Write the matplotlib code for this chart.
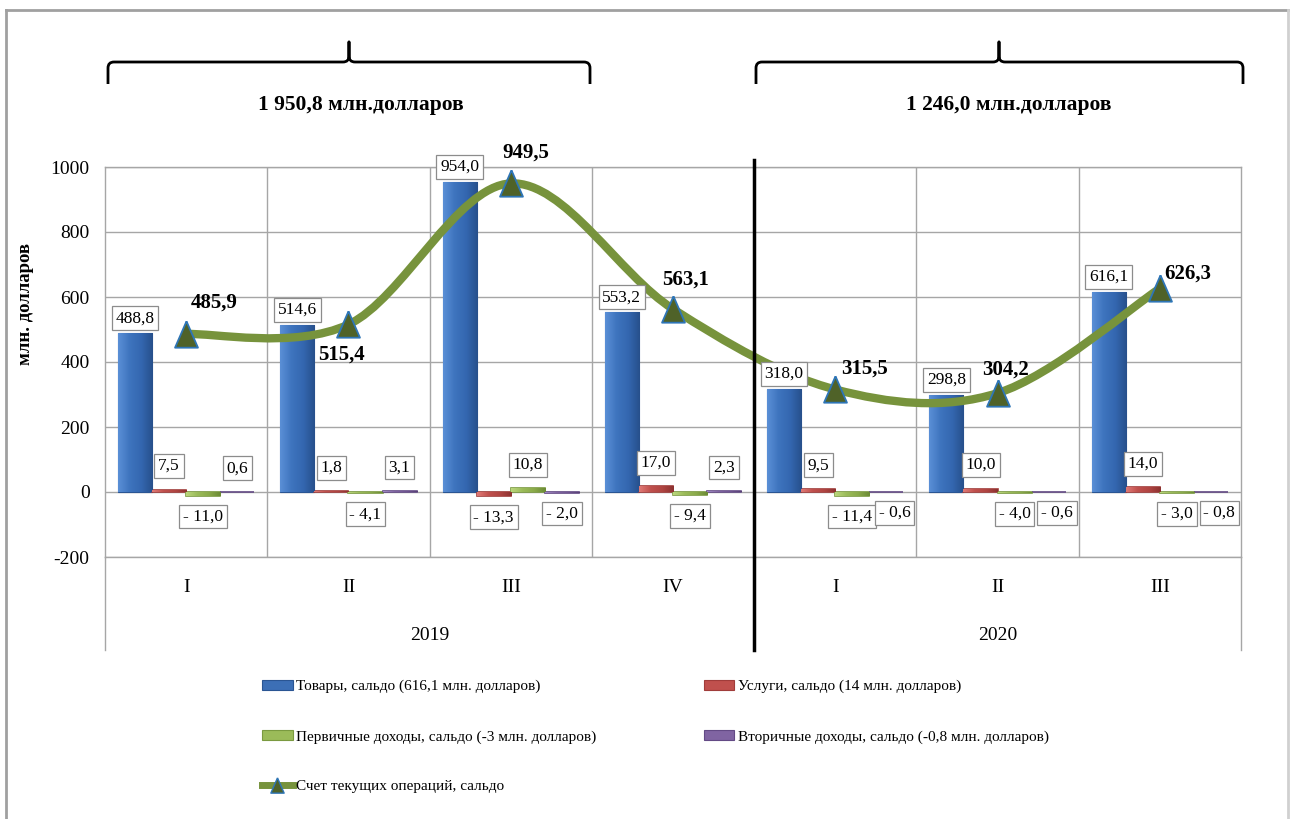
import numpy as np
import matplotlib
matplotlib.use('Agg')
import matplotlib.pyplot as plt
from matplotlib.path import Path
from matplotlib.patches import PathPatch, Rectangle
from matplotlib.lines import Line2D
from matplotlib.colors import LinearSegmentedColormap
import matplotlib.transforms as mtransforms

# ---------------- data ----------------
quarters = ['I', 'II', 'III', 'IV', 'I', 'II', 'III']
years = ['2019', '2020']
year_sizes = [4, 3]
goods = [488.8, 514.6, 954.0, 553.2, 318.0, 298.8, 616.1]
services = [7.5, 1.8, -13.3, 17.0, 9.5, 10.0, 14.0]
primary = [-11.0, -4.1, 10.8, -9.4, -11.4, -4.0, -3.0]
secondary = [0.6, 3.1, -2.0, 2.3, -0.6, -0.6, -0.8]
current = [485.9, 515.4, 949.5, 563.1, 315.5, 304.2, 626.3]
year_totals = ['1 950,8 млн.долларов', '1 246,0 млн.долларов']
series_names = ['Товары, сальдо (616,1 млн. долларов)',
                'Услуги, сальдо (14 млн. долларов)',
                'Первичные доходы, сальдо (-3 млн. долларов)',
                'Вторичные доходы, сальдо (-0,8 млн. долларов)']
line_name = 'Счет текущих операций, сальдо'
y_label = 'млн. долларов'
yticks = [-200, 0, 200, 400, 600, 800, 1000]

# ---------------- style ----------------
plt.rcParams['font.family'] = ['Liberation Serif', 'DejaVu Serif']
plt.rcParams['axes.unicode_minus'] = False
W, H = 1290, 819
fig = plt.figure(figsize=(W / 100, H / 100), dpi=100)
fig.patch.set_facecolor('white')

def fx(x):
    return x / W

def fy(y):
    return 1 - y / H

ax = fig.add_axes([fx(105), fy(557), fx(1241 - 105), (557 - 167) / H])

colors = [
    ['#5A8FD6', '#3E74BE', '#3467B0', '#27508C'],
    ['#E07A76', '#C0504D', '#B04542', '#8C3230'],
    ['#BAD67C', '#9BBB59', '#8AAA4A', '#6B8A35'],
    ['#A08AC4', '#8064A2', '#705592', '#574075'],
]
edge_cols = ['#2A5593', '#A03C3A', '#7A9A40', '#634A85']
base_cols = ['#3C6FB6', '#C0504D', '#9BBB59', '#8064A2']
line_col = '#77933C'

n = len(quarters)
x = np.arange(n)
bw = 0.21
all_series = [goods, services, primary, secondary]
offs = [-1.5, -0.5, 0.5, 1.5]

for k, (vals, off) in enumerate(zip(all_series, offs)):
    bars = ax.bar(x + off * bw, vals, width=bw, color=base_cols[k],
                  edgecolor=edge_cols[k], linewidth=1.2 if k else 0.8, zorder=3)
    cmap = LinearSegmentedColormap.from_list('g%d' % k, colors[k])
    grad = np.linspace(0, 1, 64).reshape(1, -1)
    for r in bars:
        x0, y0 = r.get_x(), r.get_y()
        w, h = r.get_width(), r.get_height()
        im = ax.imshow(grad, extent=(x0, x0 + w, min(y0, y0 + h), max(y0, y0 + h)),
                       cmap=cmap, aspect='auto', zorder=3.1, interpolation='bilinear')
        im.set_clip_path(r)

# smoothed line (Bezier through the data points)
P = np.column_stack([x, current]).astype(float)
verts = [P[0]]
codes = [Path.MOVETO]
for i in range(n - 1):
    p0 = P[i - 1] if i > 0 else P[i]
    p3 = P[i + 2] if i + 2 < n else P[i + 1]
    c1 = P[i] + (P[i + 1] - p0) / 6.0
    c2 = P[i + 1] - (p3 - P[i]) / 6.0
    verts += [c1, c2, P[i + 1]]
    codes += [Path.CURVE4] * 3
ax.add_patch(PathPatch(Path(verts, codes), fill=False, edgecolor=line_col,
                       lw=6, capstyle='round', zorder=5))
tri = [(0, 1.15), (-1, -1.15), (1, -1.15), (0, 1.15)]
ax.plot(x, current, ls='none', marker=tri, ms=19, mfc='#4F6228',
        mec='#2E75B6', mew=1.3, zorder=6)

ax.set_xlim(-0.5, n - 0.5)
ax.set_ylim(-200, 1000)
ax.set_yticks(yticks)
ax.set_xticks([])
ax.tick_params(axis='y', length=0, pad=11, labelsize=14)
ax.grid(axis='y', color='#A6A6A6', lw=1, zorder=0)
for b in np.arange(0.5, n - 0.5, 1):
    ax.axvline(b, color='#A6A6A6', lw=1, zorder=0)
for s in ax.spines.values():
    s.set_color('#A6A6A6')
    s.set_linewidth(1)

def fmt(v):
    s = ('%.1f' % abs(v)).replace('.', ',')
    return ('- ' + s) if v < 0 else s

box = dict(boxstyle='square,pad=0.22', fc='white', ec='#8C8C8C', lw=0.9)
for k, (vals, off) in enumerate(zip(all_series, offs)):
    for i, v in enumerate(vals):
        xc = i + off * bw
        if k == 0:
            ax.annotate(fmt(v), (xc, v), xytext=(0, 5), textcoords='offset points',
                        ha='center', va='bottom', fontsize=12.5, bbox=box, zorder=7)
        else:
            dx = 0
            if k == 3 and v < 0 and primary[i] < 0:
                dx = 6
            if v >= 0:
                ax.annotate(fmt(v), (xc, v), xytext=(dx, 17), textcoords='offset points',
                            ha='center', va='center', fontsize=12.5, bbox=box, zorder=7)
            else:
                ax.annotate(fmt(v), (xc, v), xytext=(dx, -15), textcoords='offset points',
                            ha='center', va='center', fontsize=12.5, bbox=box, zorder=7)

line_offsets = [(20, 23), (-5, -22), (11, 22), (9, 21), (21, 15), (6, 17), (20, 11)]
for i, v in enumerate(current):
    ax.annotate(fmt(v), (i, v), xytext=line_offsets[i], textcoords='offset points',
                ha='center', va='center', fontsize=15, fontweight='bold', zorder=8)

# category axis (two levels)
bt = mtransforms.blended_transform_factory(ax.transData, fig.transFigure)
for i, q in enumerate(quarters):
    ax.text(i, fy(588), q, transform=bt, ha='center', va='center', fontsize=14)
start = -0.5
for yname, size in zip(years, year_sizes):
    ax.text(start + size / 2, fy(635), yname, transform=bt, ha='center',
            va='center', fontsize=14)
    start += size
ax.plot([-0.5, -0.5], [fy(557), fy(650)], transform=bt, color='#A6A6A6', lw=1, clip_on=False)
ax.plot([n - 0.5, n - 0.5], [fy(557), fy(650)], transform=bt, color='#A6A6A6', lw=1, clip_on=False)
sep = -0.5 + year_sizes[0]
ax.plot([sep, sep], [fy(160), fy(650)], transform=bt, color='black', lw=2.5,
        clip_on=False, zorder=9)

fig.text(fx(25), fy(304), y_label, rotation=90, ha='center', va='center',
         fontsize=13.5, fontweight='bold')

# braces and totals
pxt = mtransforms.Affine2D().scale(1 / W, -1 / H).translate(0, 1) + fig.transFigure

def brace(x0, x1, xm, yh=62, ye=84, yt=42, r=6):
    v = [(x0, ye), (x0, yh + r), (x0, yh), (x0 + r, yh),
         (xm - r, yh), (xm, yh), (xm, yh - r), (xm, yt),
         (xm, yh - r), (xm, yh), (xm + r, yh),
         (x1 - r, yh), (x1, yh), (x1, yh + r), (x1, ye)]
    c = [Path.MOVETO, Path.LINETO, Path.CURVE3, Path.CURVE3,
         Path.LINETO, Path.CURVE3, Path.CURVE3, Path.LINETO,
         Path.LINETO, Path.CURVE3, Path.CURVE3,
         Path.LINETO, Path.CURVE3, Path.CURVE3, Path.LINETO]
    fig.patches.append(PathPatch(Path(v, c), fill=False, lw=2, ec='black',
                                 transform=pxt, joinstyle='round'))

brace(108, 590, 349)
brace(756, 1243, 999)
fig.text(fx(361), fy(105), year_totals[0], ha='center', va='center',
         fontsize=15.5, fontweight='bold')
fig.text(fx(1009), fy(105), year_totals[1], ha='center', va='center',
         fontsize=15.5, fontweight='bold')

# legend
handles = [Rectangle((0, 0), 1, 1, fc=base_cols[k], ec=edge_cols[k], lw=0.8) for k in range(4)]
lh = Line2D([], [], color=line_col, lw=5, marker=tri, ms=11, mfc='#4F6228',
            mec='#2E75B6', mew=1)
order_h = [handles[0], handles[2], lh, handles[1], handles[3]]
order_l = [series_names[0], series_names[2], line_name, series_names[1], series_names[3]]
fig.legend(order_h, order_l, ncol=2, loc='upper left',
           bbox_to_anchor=(fx(262), fy(680)), frameon=False, fontsize=11,
           handlelength=2.0, handleheight=0.55, handletextpad=0.25,
           labelspacing=2.4, columnspacing=7.0, borderaxespad=0, borderpad=0)

# outer frame
fig.add_artist(Line2D([fx(6), fx(6)], [0, fy(10)], color='#A0A0A0', lw=2, transform=fig.transFigure))
fig.add_artist(Line2D([fx(6), fx(1288)], [fy(10), fy(10)], color='#A0A0A0', lw=2, transform=fig.transFigure))
fig.add_artist(Line2D([fx(1288), fx(1288)], [0, fy(10)], color='#D0D0D0', lw=2, transform=fig.transFigure))

fig.savefig('out.png', dpi=100, facecolor='white')
